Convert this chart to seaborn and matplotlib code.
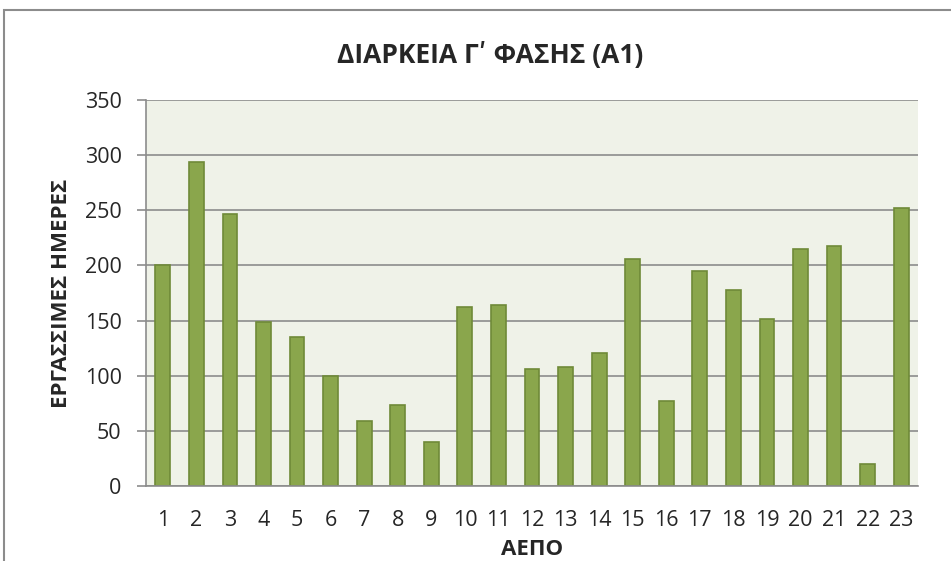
import matplotlib
matplotlib.use("Agg")
import matplotlib.pyplot as plt
import seaborn as sns
import pandas as pd
from matplotlib.patches import Rectangle

categories = [str(i) for i in range(1, 24)]
values = [200, 294, 247, 149, 135, 100, 59, 73, 40, 162, 164, 106, 108,
          121, 206, 77, 195, 178, 151, 215, 218, 20, 252]
yticks = [0, 50, 100, 150, 200, 250, 300, 350]

title = "ΔΙΑΡΚΕΙΑ Γʹ ΦΑΣΗΣ (Α1)"
ylabel = "ΕΡΓΑΣΣΙΜΕΣ ΗΜΕΡΕΣ"
xlabel = "ΑΕΠΟ"

sns.set_theme(style="white")
plt.rcParams['font.family'] = ['Open Sans', 'DejaVu Sans']

df = pd.DataFrame({"aepo": categories, "days": values})

fig = plt.figure(figsize=(9.51, 5.61), dpi=100)
ax = fig.add_axes([146/951, 1 - 486/561, (918 - 146)/951, (486 - 100)/561])

sns.barplot(data=df, x="aepo", y="days", order=categories, ax=ax,
            color="#8aa64c", edgecolor="#6f8a38", linewidth=1.2,
            width=0.44, saturation=1)

ax.set_facecolor("#eff2e8")
ax.set_ylim(0, 350)
ax.set_xlim(-0.5, len(categories) - 0.5)
ax.set_yticks(yticks)
ax.set_yticklabels([str(v) for v in yticks], fontsize=15.5)
ax.set_xticks(range(len(categories)))
ax.set_xticklabels(categories, fontsize=15.5)
ax.yaxis.grid(True, color="#8c8c8c", linewidth=1.2)
ax.set_axisbelow(True)
for side in ["top", "right"]:
    ax.spines[side].set_visible(False)
for side in ["left", "bottom"]:
    ax.spines[side].set_color("#8c8c8c")
    ax.spines[side].set_linewidth(1.2)
ax.tick_params(axis="y", which="both", length=6.5, color="#8c8c8c", width=1.2,
               left=True, direction="out", pad=11)
ax.tick_params(axis="x", length=0, pad=17)

ax.set_xlabel(xlabel, fontsize=16, fontweight="bold", labelpad=6)
ax.set_ylabel(ylabel, fontsize=16, fontweight="bold", labelpad=9)

fig.text(0.515, 1 - 55/561, title, ha="center", va="center", fontsize=19, fontweight="bold")

fig.patches.append(Rectangle((4/951, -0.1), 1.2, 1 - 10/561 + 0.1, transform=fig.transFigure,
                             fill=False, edgecolor="#8c8c8c", linewidth=1.5))

fig.savefig("out.png", dpi=100, facecolor="white")
